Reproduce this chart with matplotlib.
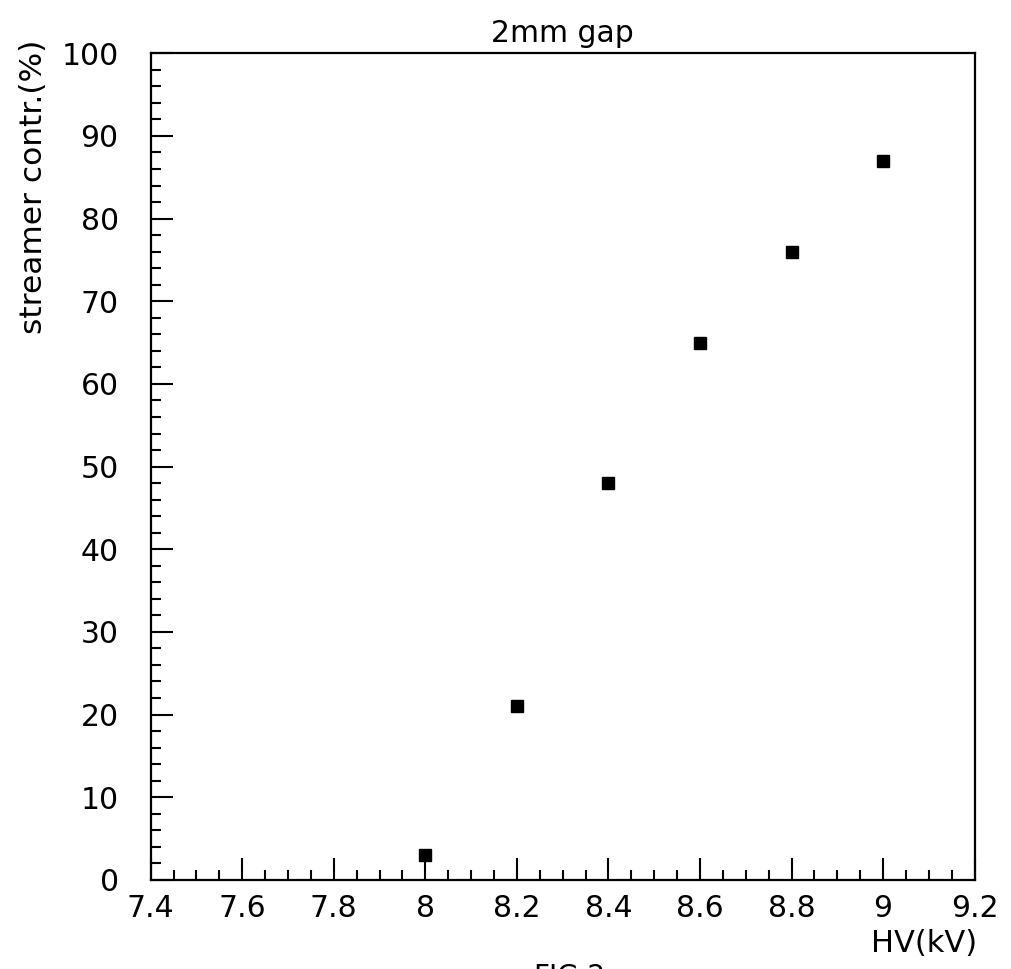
import matplotlib
matplotlib.use("Agg")
import matplotlib.pyplot as plt
from matplotlib.ticker import MultipleLocator, FixedLocator

# Streamer contribution vs. high voltage, 2 mm gap
hv_kv = [8.0, 8.2, 8.4, 8.6, 8.8, 9.0]
streamer_pct = [3, 21, 48, 65, 76, 87]

x_ticks = [7.4, 7.6, 7.8, 8.0, 8.2, 8.4, 8.6, 8.8, 9.0, 9.2]
x_tick_labels = ["7.4", "7.6", "7.8", "8", "8.2", "8.4", "8.6", "8.8", "9", "9.2"]
y_ticks = [0, 10, 20, 30, 40, 50, 60, 70, 80, 90, 100]

plt.rcParams["font.family"] = ["DejaVu Sans"]

fig = plt.figure(figsize=(10.11, 9.69), dpi=100)
ax = fig.add_axes([0.149, 0.092, 0.815, 0.853])

ax.plot(hv_kv, streamer_pct, linestyle="none", marker="s", markersize=8.5,
        color="black")

ax.set_xlim(7.4, 9.2)
ax.set_ylim(0, 100)

ax.xaxis.set_major_locator(FixedLocator(x_ticks))
ax.set_xticklabels(x_tick_labels)
ax.xaxis.set_minor_locator(MultipleLocator(0.05))
ax.yaxis.set_major_locator(FixedLocator(y_ticks))
ax.yaxis.set_minor_locator(MultipleLocator(2))

for s in ax.spines.values():
    s.set_linewidth(1.6)

ax.tick_params(which="both", direction="in", top=False, right=False,
               width=1.5, labelsize=21.5)
ax.tick_params(which="major", length=16)
ax.tick_params(which="minor", length=7.5)
ax.tick_params(axis="x", which="major", pad=10)
ax.tick_params(axis="y", which="major", pad=23)

ax.set_title("2mm gap", fontsize=21.5, pad=8)
fig.text(0.033, 0.959, "streamer contr.(%)", rotation=90, fontsize=22.5,
         ha="center", va="top")
fig.text(0.966, 1 - 943 / 969, "HV(kV)", fontsize=22, ha="right", va="center")
fig.text(0.563, 1 - 963 / 969, "FIG.2", fontsize=20, ha="center", va="top")

fig.savefig("out.png", dpi=100, facecolor="white")
